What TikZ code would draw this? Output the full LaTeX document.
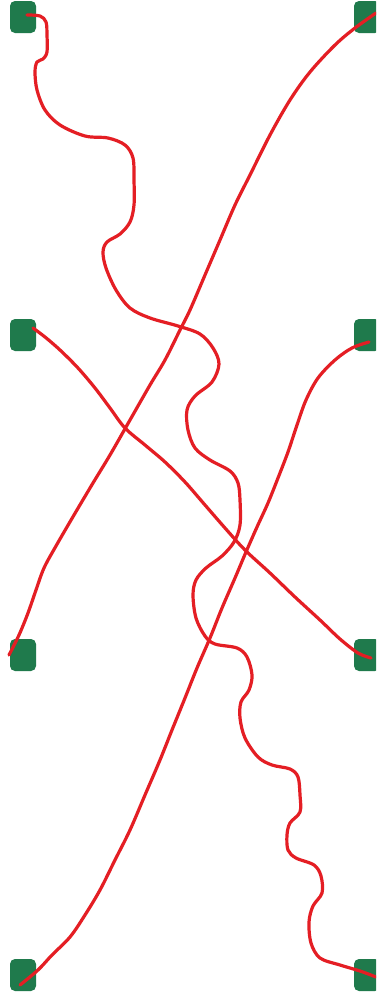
\documentclass[tikz,border=0pt]{standalone}
\usepackage{tikz}
\usetikzlibrary{calc}
\definecolor{padgreen}{RGB}{31,122,76}
\definecolor{wirered}{RGB}{228,30,36}
\tikzset{
  pad/.style={draw=none, fill=padgreen, rounded corners=5pt, minimum width=26pt, minimum height=32pt, inner sep=0pt},
  wire/.style={draw=wirered, line width=3.2pt, line cap=round, line join=round}
}
\begin{document}
\begin{tikzpicture}[x=1pt,y=-1pt]
\useasboundingbox (0,0) rectangle (376,997);
\clip (0,0) rectangle (376,997);
\fill[white] (0,0) rectangle (376,997);
% pads
\node[pad] (l1) at (23,17) {};
\node[pad] (l2) at (23,335) {};
\node[pad] (l3) at (23,655) {};
\node[pad] (l4) at (23,975) {};
\node[pad] (r1) at (367,17) {};
\node[pad] (r2) at (367,335) {};
\node[pad] (r3) at (367,655) {};
\node[pad] (r4) at (367,975) {};
% wire 1: l1 -> r4
\draw[wire] plot[smooth, tension=0.55] coordinates {
($(l1.center)+(4,-2)$) (40,16) (46,22) (47,35) (47,52) (43,59) (37,62) (35,72) (37,90) (45,110) (60,125) (85,136) (108,138) (125,145) (133,158) (134,180) (134,205) (130,222) (120,234) (107,242) (103,252) (106,268) (116,290) (130,308) (150,318) (178,326) (200,334) (213,348) (219,364) (212,382) (195,396) (187,410) (188,430) (195,448) (210,460) (230,471) (238,483) (240,500) (240,525) (234,542) (222,556) (206,568) (196,580) (193,595) (196,618) (205,636) (215,644) (237,648) (247,657) (252,675) (249,690) (241,702) (240,718) (245,738) (258,757) (272,765) (290,769) (298,777) (300,795) (300,812) (290,823) (287,835) (288,850) (296,858) (314,865) (321,876) (322,893) (313,906) (309,922) (311,943) (320,958) (340,965) (360,971) ($(r4.center)+(9,2)$)};
% wire 2: r1 -> l3
\draw[wire] plot[smooth, tension=0.55] coordinates {
($(r1.center)+(9,-4)$) (355,28) (335,45) (310,72) (290,100) (270,135) (250,175) (235,205) (220,240) (205,275) (190,310) (180,330) (165,360) (150,385) (130,420) (110,455) (93,483) (74,515) (56,546) (44,568) (36,590) (28,613) (19,635) ($(l3.center)+(-14,0)$)};
% wire 3: l2 -> r3
\draw[wire] plot[smooth, tension=0.55] coordinates {
($(l2.center)+(10,-7)$) (45,337) (60,350) (78,368) (95,388) (110,408) (125,428) (145,445) (165,462) (185,482) (205,505) (225,528) (245,550) (270,573) (295,597) (320,620) (340,639) (358,653) ($(r3.center)+(4,3)$)};
% wire 4: r2 -> l4
\draw[wire] plot[smooth, tension=0.55] coordinates {
($(r2.center)+(2,7)$) (352,348) (335,360) (318,378) (306,400) (297,425) (288,452) (278,478) (268,503) (257,527) (246,552) (235,578) (222,608) (210,638) (197,668) (185,698) (172,730) (160,760) (145,795) (130,830) (115,860) (100,890) (85,915) (70,937) (52,955) (38,970) ($(l4.center)+(-3,10)$)};
\end{tikzpicture}
\end{document}
